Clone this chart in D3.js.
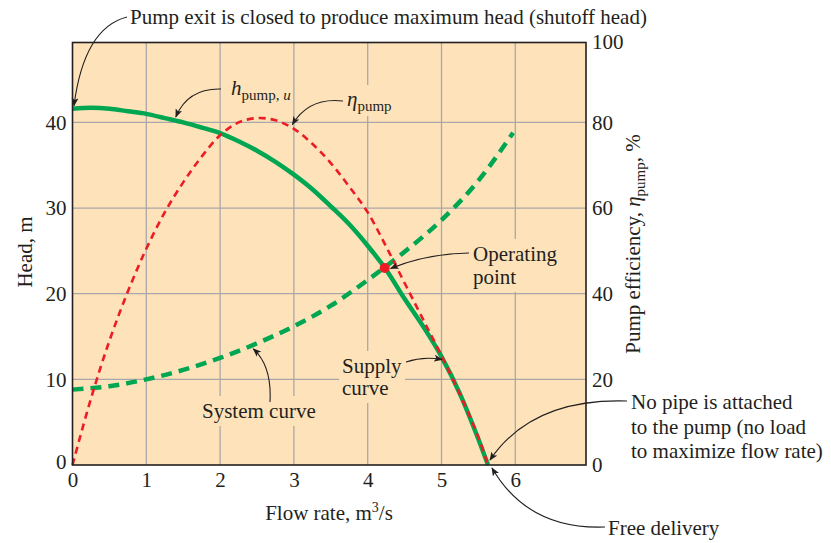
<!DOCTYPE html>
<html>
<head>
<meta charset="utf-8">
<script src="https://cdn.jsdelivr.net/npm/d3@7"></script>
<style>
  body { margin: 0; background: #ffffff; }
  text { font-family: "Liberation Serif", "Times New Roman", serif; fill: #231f20; }
</style>
</head>
<body>
<svg id="chart" width="831" height="543"></svg>
<script>
// Pump performance curve (head and efficiency vs. flow rate)
const flowPump = [0, 0.25, 0.5, 0.75, 1, 1.25, 1.5, 1.75, 2, 2.25, 2.5, 2.75, 3, 3.25, 3.5, 3.75, 4, 4.25, 4.5, 4.75, 5, 5.25, 5.5, 5.63];
const headPump = [41.6, 41.7, 41.6, 41.3, 41.0, 40.5, 40.0, 39.4, 38.75, 37.8, 36.7, 35.4, 33.9, 32.2, 30.2, 28.1, 25.6, 22.8, 19.4, 16.2, 12.65, 8.3, 3.0, 0];
const effPump  = [0, 15.5, 29, 40.5, 50.5, 59, 66, 72, 77, 80, 81, 80.5, 78.5, 75, 70.5, 65, 59, 51, 42.5, 34, 25.5, 16.5, 6.5, 0];

// System curve (required head vs. flow rate)
const flowSystem = [0, 0.5, 1, 1.5, 2, 2.5, 3, 3.5, 4, 4.5, 5, 5.5, 5.97];
const headSystem = [8.8, 9.2, 10.0, 11.1, 12.5, 14.2, 16.2, 18.6, 21.6, 24.9, 28.6, 33.2, 38.8];

// Operating point (intersection of supply and system curves)
const opFlow = 4.23;
const opHead = 23.0;

// Axis ticks
const flowTicks = [0, 1, 2, 3, 4, 5, 6];
const headTicks = [0, 10, 20, 30, 40];
const effTicks  = [0, 20, 40, 60, 80];
const effTopLabel = "100";

const svg = d3.select("#chart");
const pLeft = 72.5, pRight = 586, pTop = 42.5, pBottom = 465;

const x  = d3.scaleLinear().domain([0, 6.958]).range([pLeft, pRight]);
const yH = d3.scaleLinear().domain([0, 49.33]).range([pBottom, pTop]);
const yE = d3.scaleLinear().domain([0, 98.66]).range([pBottom, pTop]);

const BG = "#fee3ba", GRID = "#a9a7a9", GREEN = "#00a651", RED = "#ed1c24";
const FS = 21;

// arrowhead
svg.append("defs").append("marker")
  .attr("id", "arrow").attr("viewBox", "0 0 10 8")
  .attr("refX", 9).attr("refY", 4)
  .attr("markerWidth", 9).attr("markerHeight", 7)
  .attr("markerUnits", "userSpaceOnUse")
  .attr("orient", "auto")
  .append("path").attr("d", "M0,0 L10,4 L0,8 L2.5,4 Z").attr("fill", "#231f20");

// plot background
svg.append("rect").attr("x", pLeft).attr("y", pTop)
  .attr("width", pRight - pLeft).attr("height", pBottom - pTop).attr("fill", BG);

// grid
const gridLayer = svg.append("g");
gridLayer.selectAll(".vg").data(flowTicks.filter(d => d > 0)).join("line")
  .attr("x1", d => x(d)).attr("x2", d => x(d)).attr("y1", pTop).attr("y2", pBottom)
  .attr("stroke", GRID).attr("stroke-width", 1.3);
gridLayer.selectAll(".hg").data(headTicks.filter(d => d > 0)).join("line")
  .attr("y1", d => yH(d)).attr("y2", d => yH(d)).attr("x1", pLeft).attr("x2", pRight)
  .attr("stroke", GRID).attr("stroke-width", 1.3);

const maskLayer = svg.append("g");
const curveLayer = svg.append("g");
const textLayer = svg.append("g");

// curves
const lineH = d3.line().x((d, i) => x(flowPump[i])).y(d => yH(d)).curve(d3.curveMonotoneX);
const lineE = d3.line().x((d, i) => x(flowPump[i])).y(d => yE(d)).curve(d3.curveCatmullRom.alpha(0.5));
const lineS = d3.line().x((d, i) => x(flowSystem[i])).y(d => yH(d)).curve(d3.curveMonotoneX);

curveLayer.append("path").attr("d", lineS(headSystem))
  .attr("fill", "none").attr("stroke", GREEN).attr("stroke-width", 4.5)
  .attr("stroke-dasharray", "11,7");
curveLayer.append("path").attr("d", lineH(headPump))
  .attr("fill", "none").attr("stroke", GREEN).attr("stroke-width", 4.5);
curveLayer.append("path").attr("d", lineE(effPump))
  .attr("fill", "none").attr("stroke", RED).attr("stroke-width", 2.6)
  .attr("stroke-dasharray", "7,5");
curveLayer.append("circle").attr("cx", x(opFlow)).attr("cy", yH(opHead))
  .attr("r", 5).attr("fill", RED);

// frame
svg.append("rect").attr("x", pLeft).attr("y", pTop)
  .attr("width", pRight - pLeft).attr("height", pBottom - pTop)
  .attr("fill", "none").attr("stroke", "#231f20").attr("stroke-width", 1.6);

// axes
const axX = svg.append("g").attr("transform", `translate(0,${pBottom})`)
  .call(d3.axisBottom(x).tickValues(flowTicks).tickSize(0).tickPadding(7).tickFormat(d3.format("d")));
const axL = svg.append("g").attr("transform", `translate(${pLeft},0)`)
  .call(d3.axisLeft(yH).tickValues(headTicks).tickSize(0).tickPadding(6).tickFormat(d3.format("d")));
const axR = svg.append("g").attr("transform", `translate(${pRight},0)`)
  .call(d3.axisRight(yE).tickValues(effTicks).tickSize(0).tickPadding(6).tickFormat(d3.format("d")));
[axX, axL, axR].forEach(a => {
  a.select(".domain").remove();
  a.selectAll("text").attr("font-size", FS).attr("font-family", null).attr("fill", "#231f20");
});
axL.selectAll(".tick").filter(d => d === 0).select("text").attr("dy", "0.15em");
svg.append("text").attr("x", pRight + 6).attr("y", pTop).attr("dy", "0.32em")
  .attr("font-size", FS).text(effTopLabel);

// axis titles
svg.append("text").attr("transform", "translate(32,252) rotate(-90)")
  .attr("text-anchor", "middle").attr("font-size", FS).text("Head, m");

const xt = svg.append("text").attr("x", 329).attr("y", 520)
  .attr("text-anchor", "middle").attr("font-size", FS);
xt.append("tspan").text("Flow rate, m");
xt.append("tspan").attr("font-size", 14).attr("dy", -8).text("3");
xt.append("tspan").attr("dy", 8).text("/s");

const rt = svg.append("text").attr("transform", "translate(640,244) rotate(-90)")
  .attr("text-anchor", "middle").attr("font-size", FS);
rt.append("tspan").text("Pump efficiency, ");
rt.append("tspan").attr("font-style", "italic").text("η");
rt.append("tspan").attr("font-size", 15).attr("dy", 5).text("pump");
rt.append("tspan").attr("dy", -5).text(", %");

// annotation helpers
function label(lines, x0, baselines, masked) {
  const g = textLayer.append("g");
  lines.forEach((ln, i) => {
    g.append("text").attr("x", x0).attr("y", baselines[i]).attr("font-size", FS).text(ln);
  });
  if (masked) addMask(g.node());
  return g;
}
function addMask(node, pad = 3) {
  const b = node.getBBox();
  maskLayer.append("rect").attr("x", b.x - pad).attr("y", b.y - pad)
    .attr("width", b.width + 2 * pad).attr("height", b.height + 2 * pad).attr("fill", BG);
}
function arrow(x0, y0, cx, cy, x1, y1) {
  const p = d3.path();
  p.moveTo(x0, y0);
  p.quadraticCurveTo(cx, cy, x1, y1);
  textLayer.append("path").attr("d", p.toString()).attr("fill", "none")
    .attr("stroke", "#231f20").attr("stroke-width", 1.1).attr("marker-end", "url(#arrow)");
}

// shutoff head
label(["Pump exit is closed to produce maximum head (shutoff head)"], 130, [24], false);
arrow(127, 17, 84, 28, x(0) + 1.5, yH(headPump[0]) - 3);

// pump head label
const hl = textLayer.append("text").attr("x", 231).attr("y", 95).attr("font-size", FS);
hl.append("tspan").attr("font-style", "italic").text("h");
hl.append("tspan").attr("font-size", 15).attr("dy", 5).text("pump, ");
hl.append("tspan").attr("font-size", 15).attr("font-style", "italic").text("u");
addMask(hl.node(), 2);
arrow(221, 89, 188, 88, x(1.4), yH(40.3) - 3);

// efficiency label
const el = textLayer.append("text").attr("x", 347).attr("y", 106).attr("font-size", FS);
el.append("tspan").attr("font-style", "italic").text("η");
el.append("tspan").attr("font-size", 15).attr("dy", 5).text("pump");
addMask(el.node(), 2);
arrow(343, 101, 309, 97, x(2.98), yE(79.3) - 1);

// operating point
label(["Operating", "point"], 473, [261, 284], true);
arrow(469, 253, 425, 254, x(opFlow) + 6, yH(opHead) + 0.5);

// supply curve
label(["Supply", "curve"], 342, [373, 395], true);
arrow(406, 362, 424, 356, x(5.02) - 1, yH(12.3));

// system curve
label(["System curve"], 202, [418], true);
arrow(270, 402, 272, 366, x(2.45), yH(13.9) + 3);

// free delivery
label(["No pipe is attached", "to the pump (no load", "to maximize flow rate)"], 631, [409, 433.5, 458], false);
arrow(627, 401, 532, 398, x(5.63) + 2, yH(0) - 5);
label(["Free delivery"], 608, [535], false);
arrow(605, 527, 528, 530, x(5.63) + 4, yH(0) + 3);
</script>
</body>
</html>
